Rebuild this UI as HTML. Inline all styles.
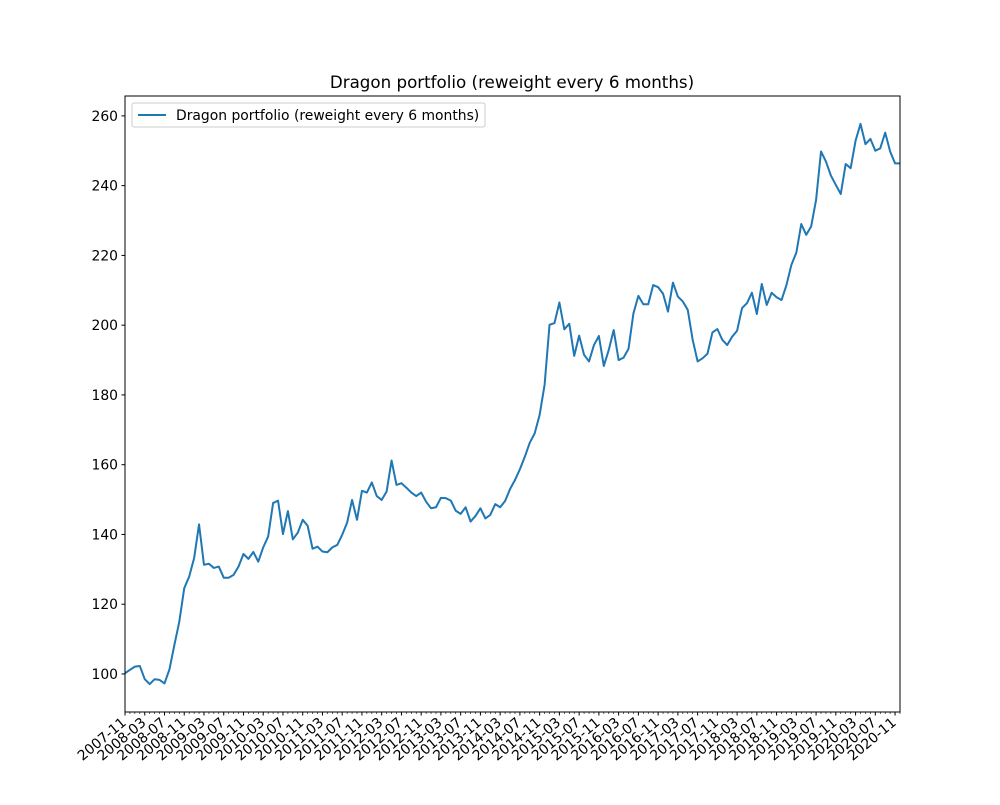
<!DOCTYPE html>
<html><head><meta charset="utf-8"><style>
body{margin:0;background:#fff}
svg text{font-family:"DejaVu Sans","Liberation Sans",sans-serif;fill:#000}
</style></head><body>
<svg id="chart" width="1000" height="800" xmlns="http://www.w3.org/2000/svg">
<rect width="1000" height="800" fill="#fff"/>
<text x="512" y="88" font-size="16.7" text-anchor="middle">Dragon portfolio (reweight every 6 months)</text>
<g id="grid"></g>
<polyline id="line" fill="none" stroke="#1f77b4" stroke-width="2" stroke-linejoin="round"/>
<rect x="125" y="96" width="775" height="616" fill="none" stroke="#000" stroke-width="1"/>
<g id="axes"></g>
<g>
<rect x="132" y="103" width="353" height="24" rx="2" fill="#fff" fill-opacity="0.8" stroke="#ccc"/>
<line x1="138" y1="115" x2="166" y2="115" stroke="#1f77b4" stroke-width="2"/>
<text x="176" y="120" font-size="13.9">Dragon portfolio (reweight every 6 months)</text>
</g>
</svg>
<script>
const startYear = 2007, startMonth = 11;
const values = [100.2,101.2,102.1,102.3,98.5,97.1,98.5,98.3,97.3,101.3,108.3,115,124.6,127.9,133.2,142.9,131.3,131.6,130.4,130.8,127.6,127.6,128.4,130.8,134.4,133,135,132.2,136.3,139.4,149,149.7,140.1,146.7,138.6,140.5,144.2,142.5,135.9,136.5,
135.1,134.9,136.3,137,139.9,143.4,149.9,144.2,152.5,152,154.9,151,149.9,152.3,161.2,154.2,154.7,153.4,152,151,152,149.4,147.5,147.8,150.5,150.4,149.7,146.8,145.9,147.8,143.7,145.3,147.5,144.6,145.6,148.7,147.8,149.6,153,155.6,158.7,162.3,166.3,
169,174.3,182.9,200.1,200.6,206.5,198.8,200.4,191.2,197,191.5,189.6,194.3,196.9,188.3,192.9,198.6,190,190.7,193.2,203.4,208.4,206,206,211.5,210.9,209,203.9,212.2,208.2,206.8,204.4,195.8,189.6,190.5,191.8,197.9,198.9,
195.8,194.3,196.7,198.4,204.9,206.3,209.3,203.2,211.8,205.8,209.3,208,207.2,211.5,217.3,220.8,229,225.9,228.3,235.9,249.8,246.9,242.9,240.2,237.6,246.2,245,252.9,257.7,251.9,253.4,250,250.7,255.2,249.8,246.4,246.4];
const yTicks = [100,120,140,160,180,200,220,240,260];
const L=125,R=900,T=96,B=712, yMin=89.1, yMax=265.7;
const n = values.length;
const xs = i => L + i*(R-L)/(n-1);
const ys = v => B - (v-yMin)/(yMax-yMin)*(B-T);
const NS="http://www.w3.org/2000/svg";
document.getElementById('line').setAttribute('points', values.map((v,i)=>xs(i).toFixed(2)+','+ys(v).toFixed(2)).join(' '));
const ax=document.getElementById('axes');
function mk(tag,attrs){const e=document.createElementNS(NS,tag);for(const k in attrs)e.setAttribute(k,attrs[k]);ax.appendChild(e);return e;}
yTicks.forEach(v=>{
  const y=ys(v);
  const t=mk('line',{x1:L-3.5,x2:L,y1:y,y2:y,stroke:'#000'});
  
  
  const tx=mk('text',{x:L-7,y:y+5,'font-size':'13.9','text-anchor':'end'});
  tx.textContent=v;
  
  
});
for(let i=0;i<n;i++){
  const x=xs(i);
  const major=i%4===0;
  const t=mk('line',{x1:x,x2:x,y1:B,y2:B+(major?3.5:2),stroke:'#000','stroke-width':major?1:0.6});
  
  
  if(major){
    const m=startMonth-1+i, yr=startYear+Math.floor(m/12), mo=m%12+1;
    const tx=mk('text',{x:0,y:0,'font-size':'13.9','text-anchor':'end',transform:`translate(${x+2},${B+12}) rotate(-40)`});
    tx.textContent=yr+'-'+String(mo).padStart(2,'0');
    
    
  }
}
</script>
</body></html>
